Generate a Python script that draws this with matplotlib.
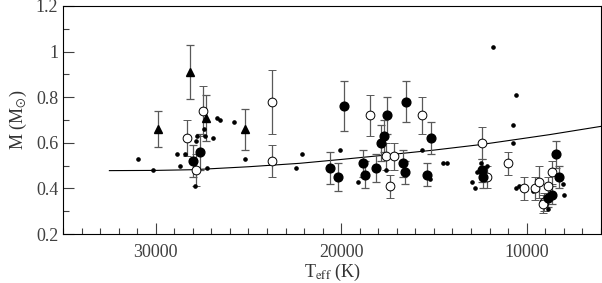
import matplotlib
matplotlib.use("Agg")
import matplotlib.pyplot as plt
from matplotlib.ticker import MultipleLocator

# filled triangles (with error bars)
tri_teff = [29900, 28150, 27300, 25200]
tri_mass = [0.66, 0.91, 0.71, 0.66]
tri_err = [0.08, 0.12, 0.10, 0.09]

# open circles (with error bars)
open_teff = [28300, 27450, 27850, 23750, 23750, 18470, 15620, 17570, 17170, 17390,
             12430, 10990, 12110, 10130, 9550, 9330, 8830, 8620, 9050, 9100]
open_mass = [0.62, 0.74, 0.48, 0.78, 0.52, 0.72, 0.72, 0.54, 0.54, 0.41,
             0.60, 0.51, 0.45, 0.40, 0.40, 0.43, 0.41, 0.47, 0.34, 0.33]
open_err = [0.08, 0.11, 0.07, 0.14, 0.07, 0.09, 0.08, 0.06, 0.06, 0.05,
            0.07, 0.05, 0.05, 0.05, 0.05, 0.07, 0.04, 0.05, 0.04, 0.04]

# filled circles (with error bars)
fill_teff = [28000, 27600, 19860, 20600, 20150, 18810, 18690, 18130, 17840, 17680,
             17510, 16500, 16670, 16540, 15350, 15140, 12430, 12350, 8430, 8250,
             8650, 8830]
fill_mass = [0.52, 0.56, 0.76, 0.49, 0.45, 0.51, 0.46, 0.49, 0.60, 0.63,
             0.72, 0.78, 0.51, 0.47, 0.46, 0.62, 0.48, 0.45, 0.55, 0.45,
             0.37, 0.36]
fill_err = [0.07, 0.08, 0.11, 0.07, 0.06, 0.06, 0.06, 0.06, 0.08, 0.07,
            0.08, 0.09, 0.06, 0.05, 0.05, 0.07, 0.05, 0.05, 0.06, 0.05,
            0.04, 0.04]

# small dots (no error bars)
dot_teff = [30970, 30150, 28830, 28430, 28700, 27890, 27770, 27840, 27400, 27330,
            26900, 26670, 26520, 25770, 25190, 27240, 22430, 22130, 20040, 19070,
            17600, 15620, 15190, 14510, 14270, 12920, 12810, 12700, 12470, 12110,
            11840, 10580, 10720, 10720, 10580, 10420, 9640, 8020, 7980, 8830]
dot_mass = [0.53, 0.48, 0.55, 0.55, 0.50, 0.41, 0.63, 0.61, 0.66, 0.63,
            0.62, 0.71, 0.70, 0.69, 0.53, 0.49, 0.49, 0.55, 0.57, 0.43,
            0.48, 0.57, 0.44, 0.51, 0.51, 0.43, 0.40, 0.47, 0.51, 0.50,
            1.02, 0.81, 0.68, 0.60, 0.40, 0.41, 0.39, 0.42, 0.37, 0.31]

# model curve
curve_teff = [32500, 30000, 28000, 25000, 22250, 20000, 17500, 15000, 12500, 10700, 8750, 6000]
curve_mass = [0.478, 0.479, 0.482, 0.495, 0.51, 0.527, 0.547, 0.568, 0.592, 0.613, 0.636, 0.672]

plt.rcParams['font.family'] = ['Liberation Serif', 'DejaVu Serif']
plt.rcParams['mathtext.fontset'] = 'stix'

fig = plt.figure(figsize=(6.02, 2.83), dpi=100)
ax = fig.add_axes([0.1047, 0.1731, 0.8933, 0.8057])

ax.plot(curve_teff, curve_mass, color='black', lw=0.8, zorder=1)

ekw = dict(ecolor='0.35', elinewidth=0.9, capsize=3, capthick=0.9, linestyle='none')
ax.errorbar(tri_teff, tri_mass, yerr=tri_err, marker='^', ms=6, mfc='black', mec='black', **ekw)
ax.errorbar(open_teff, open_mass, yerr=open_err, marker='o', ms=6.3, mfc='white', mec='black',
            mew=0.7, **ekw)
ax.errorbar(fill_teff, fill_mass, yerr=fill_err, marker='o', ms=6.3, mfc='black', mec='black', **ekw)
ax.plot(dot_teff, dot_mass, 'o', ms=2.3, color='black', linestyle='none')

ax.set_xlim(35000, 6000)
ax.set_ylim(0.2, 1.2)
ax.xaxis.set_major_locator(MultipleLocator(10000))
ax.xaxis.set_minor_locator(MultipleLocator(1000))
ax.yaxis.set_minor_locator(MultipleLocator(0.1))
ax.set_yticks([0.2, 0.4, 0.6, 0.8, 1.0, 1.2])
ax.set_yticklabels(['0.2', '0.4', '0.6', '0.8', '1', '1.2'])
ax.tick_params(which='both', direction='in', top=False, right=False, labelsize=13, colors='0.25')
ax.tick_params(which='major', length=8, width=0.8)
ax.tick_params(which='minor', length=4, width=0.8)
ax.tick_params(axis='x', pad=7)

ax.set_xlabel(r'T$_{\rm eff}$ (K)', fontsize=13, color='0.2', labelpad=1)
ax.set_ylabel(r'M (M$_{\odot}$)', fontsize=13, color='0.2', labelpad=5)

fig.savefig('out.png', dpi=100)
